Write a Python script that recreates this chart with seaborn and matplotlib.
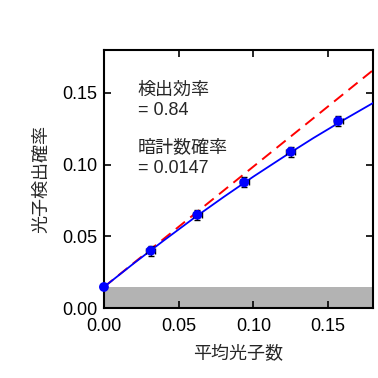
import matplotlib
matplotlib.use("Agg")
import matplotlib.pyplot as plt
import seaborn as sns
import pandas as pd

# Data
mean_photons = [0.0, 0.0313, 0.0625, 0.0938, 0.125, 0.1567]
detect_prob = [0.0147, 0.0400, 0.0650, 0.0876, 0.1090, 0.1304]
x_err = [0.0, 0.0030, 0.0030, 0.0030, 0.0030, 0.0030]
y_err = [0.0, 0.0035, 0.0035, 0.0035, 0.0035, 0.0035]

fit_x = [0.0, 0.02, 0.04, 0.06, 0.08, 0.10, 0.12, 0.14, 0.16, 0.18]
fit_y = [0.0147, 0.0312, 0.0471, 0.0626, 0.0774, 0.0917, 0.1053, 0.1185, 0.1310, 0.1430]

lin_x = [0.0, 0.18]
lin_y = [0.0147, 0.1659]

dark_count = 0.0147
efficiency_text = "検出効率\n= 0.84"
dark_text = "暗計数確率\n= 0.0147"
xticks = [0.0, 0.05, 0.10, 0.15]
yticks = [0.0, 0.05, 0.10, 0.15]

sns.set_style("ticks")
plt.rcParams['font.family'] = ['Liberation Sans', 'Noto Sans CJK JP', 'DejaVu Sans']

fig = plt.figure(figsize=(3.78, 3.78), dpi=100)
ax = fig.add_axes([0.275, 0.185, 0.712, 0.683])

ax.axhspan(0, dark_count, color='#b3b3b3', lw=0, zorder=0)

sns.lineplot(x=lin_x, y=lin_y, ax=ax, color='#ff0000', lw=1.4,
             linestyle=(0, (6, 3.5)), zorder=2)
sns.lineplot(x=fit_x, y=fit_y, ax=ax, color='#0000ff', lw=1.3, zorder=3)
ax.errorbar(mean_photons, detect_prob, xerr=x_err, yerr=y_err, fmt='none',
            ecolor='black', elinewidth=1.0, capsize=2.0, capthick=1.0, zorder=4)
sns.scatterplot(x=mean_photons, y=detect_prob, ax=ax, color='#0000ff', s=50,
                edgecolor='none', zorder=5, clip_on=False)

ax.set_xlim(0, 0.18)
ax.set_ylim(0, 0.18)
ax.set_xticks(xticks)
ax.set_yticks(yticks)
ax.set_xticklabels([f"{v:.2f}" for v in xticks])
ax.set_yticklabels([f"{v:.2f}" for v in yticks])
ax.tick_params(direction='in', length=5, width=1.2, top=True, right=True,
               labelsize=13, colors='black')
ax.tick_params(axis='x', pad=7)
ax.tick_params(axis='y', pad=5)
for s in ax.spines.values():
    s.set_linewidth(1.5)
    s.set_color('black')

ax.set_xlabel("平均光子数", fontsize=13, labelpad=8)
ax.set_ylabel("光子検出確率", fontsize=13, labelpad=8)

ax.text(0.0225, 0.1348, efficiency_text, fontsize=13, va='baseline', ha='left', linespacing=1.25)
ax.text(0.0225, 0.0943, dark_text, fontsize=13, va='baseline', ha='left', linespacing=1.25)

fig.savefig("out.png", dpi=100)
